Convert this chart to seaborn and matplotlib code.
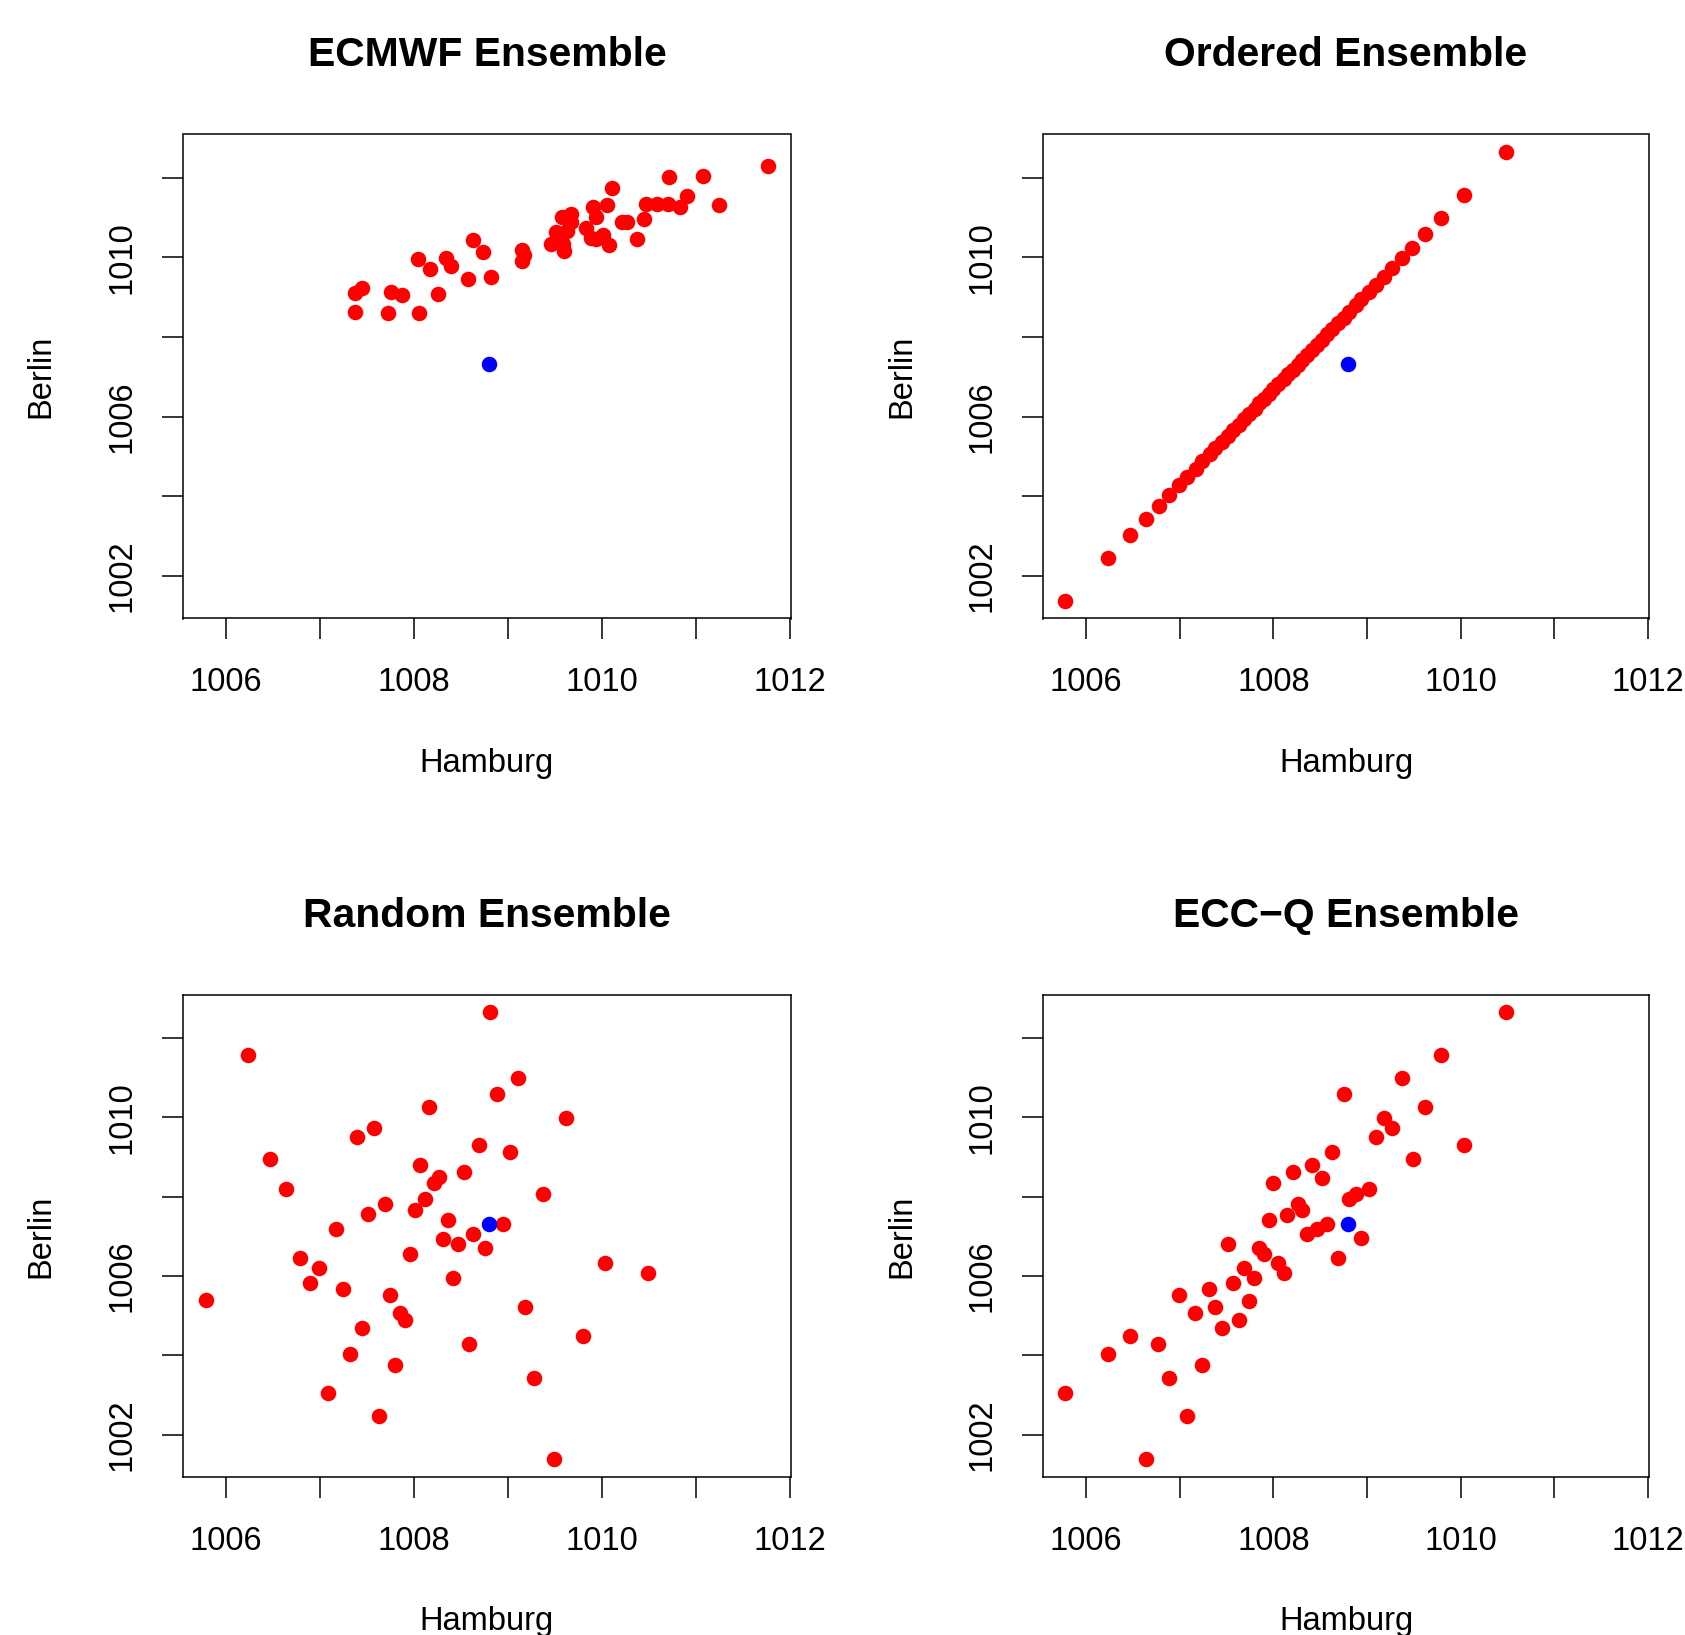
import matplotlib
matplotlib.use("Agg")
import matplotlib.pyplot as plt
import seaborn as sns
import pandas as pd

# ---------------- data ----------------
TITLES = ["ECMWF Ensemble", "Ordered Ensemble", "Random Ensemble", "ECC\u2212Q Ensemble"]
X_LABEL = "Hamburg"
Y_LABEL = "Berlin"

OBS_H = [1008.80]
OBS_B = [1007.31]

ENS_H = [1011.77, 1010.71, 1011.07, 1010.11, 1010.90, 1011.24, 1010.47, 1010.58, 1010.70, 1010.83,
         1009.90, 1010.05, 1009.94, 1010.45, 1010.21, 1010.26, 1009.57, 1009.67, 1009.67, 1009.51,
         1009.63, 1009.83, 1009.88, 1010.01, 1009.94, 1010.07, 1010.37, 1009.46, 1009.58, 1009.59,
         1009.15, 1009.15, 1008.63, 1008.73, 1008.34, 1008.39, 1008.04, 1008.17, 1008.57, 1008.82,
         1007.45, 1007.37, 1007.75, 1007.87, 1008.25, 1007.37, 1007.72, 1008.05, 1009.64, 1009.17]
ENS_B = [1012.28, 1012.01, 1012.03, 1011.74, 1011.53, 1011.32, 1011.34, 1011.34, 1011.34, 1011.26,
         1011.27, 1011.32, 1011.02, 1010.96, 1010.88, 1010.88, 1011.00, 1011.09, 1010.88, 1010.63,
         1010.65, 1010.74, 1010.48, 1010.55, 1010.46, 1010.30, 1010.46, 1010.34, 1010.34, 1010.15,
         1010.19, 1009.90, 1010.42, 1010.13, 1009.99, 1009.79, 1009.96, 1009.71, 1009.46, 1009.50,
         1009.23, 1009.10, 1009.13, 1009.06, 1009.07, 1008.62, 1008.61, 1008.61, 1010.95, 1010.05]

ORD_H = [1005.78, 1006.23, 1006.47, 1006.64, 1006.78, 1006.89, 1006.99, 1007.08, 1007.17, 1007.24,
         1007.32, 1007.38, 1007.45, 1007.51, 1007.57, 1007.63, 1007.69, 1007.74, 1007.80, 1007.85,
         1007.90, 1007.95, 1008.00, 1008.05, 1008.11, 1008.16, 1008.21, 1008.26, 1008.31, 1008.36,
         1008.41, 1008.47, 1008.52, 1008.57, 1008.63, 1008.69, 1008.75, 1008.81, 1008.88, 1008.94,
         1009.02, 1009.09, 1009.18, 1009.27, 1009.37, 1009.48, 1009.62, 1009.79, 1010.03, 1010.48]
ORD_B = [1001.38, 1002.45, 1003.02, 1003.43, 1003.76, 1004.03, 1004.28, 1004.49, 1004.69, 1004.88,
         1005.05, 1005.21, 1005.37, 1005.52, 1005.66, 1005.80, 1005.94, 1006.07, 1006.20, 1006.33,
         1006.45, 1006.57, 1006.70, 1006.82, 1006.94, 1007.06, 1007.18, 1007.30, 1007.43, 1007.55,
         1007.68, 1007.80, 1007.93, 1008.06, 1008.20, 1008.34, 1008.48, 1008.63, 1008.79, 1008.95,
         1009.12, 1009.31, 1009.51, 1009.72, 1009.97, 1010.24, 1010.57, 1010.98, 1011.55, 1012.63]

RND_H = [1008.81, 1006.23, 1009.10, 1008.88, 1008.16, 1009.62, 1007.57, 1007.39, 1008.69, 1009.02,
         1006.47, 1008.06, 1008.53, 1008.26, 1008.21, 1006.64, 1009.37, 1008.11, 1007.69, 1008.01,
         1007.51, 1008.36, 1008.95, 1007.17, 1008.63, 1008.31, 1008.47, 1008.75, 1007.96, 1006.78,
         1010.03, 1006.99, 1010.49, 1008.41, 1006.89, 1007.24, 1007.74, 1005.78, 1009.18, 1007.85,
         1007.90, 1007.45, 1009.80, 1008.58, 1007.32, 1007.80, 1009.27, 1007.08, 1007.63, 1009.49]
RND_B = [1012.64, 1011.56, 1010.98, 1010.58, 1010.25, 1009.97, 1009.72, 1009.50, 1009.29, 1009.13,
         1008.95, 1008.79, 1008.62, 1008.48, 1008.35, 1008.19, 1008.07, 1007.95, 1007.80, 1007.66,
         1007.55, 1007.41, 1007.30, 1007.19, 1007.06, 1006.94, 1006.81, 1006.69, 1006.56, 1006.44,
         1006.32, 1006.19, 1006.07, 1005.94, 1005.82, 1005.67, 1005.51, 1005.38, 1005.22, 1005.07,
         1004.88, 1004.69, 1004.49, 1004.29, 1004.04, 1003.76, 1003.43, 1003.04, 1002.46, 1001.38]

ECCQ_H = [1010.48, 1009.79, 1009.37, 1008.75, 1009.62, 1009.18, 1009.27, 1009.09, 1010.04, 1008.63,
          1009.49, 1008.41, 1008.21, 1008.52, 1008.00, 1009.02, 1008.88, 1008.81, 1008.26, 1008.31,
          1008.15, 1007.95, 1008.57, 1008.47, 1008.36, 1008.94, 1007.51, 1007.85, 1007.90, 1008.69,
          1008.05, 1007.69, 1008.11, 1007.79, 1007.57, 1007.31, 1006.99, 1007.74, 1007.38, 1007.16,
          1007.63, 1007.45, 1006.47, 1006.77, 1006.23, 1007.24, 1006.89, 1005.78, 1007.08, 1006.64]
ECCQ_B = [1012.64, 1011.56, 1010.98, 1010.58, 1010.25, 1009.98, 1009.72, 1009.50, 1009.29, 1009.13,
          1008.95, 1008.79, 1008.63, 1008.47, 1008.35, 1008.19, 1008.07, 1007.95, 1007.81, 1007.66,
          1007.54, 1007.41, 1007.30, 1007.19, 1007.06, 1006.95, 1006.81, 1006.69, 1006.55, 1006.44,
          1006.32, 1006.20, 1006.07, 1005.94, 1005.82, 1005.67, 1005.51, 1005.37, 1005.22, 1005.07,
          1004.88, 1004.69, 1004.49, 1004.29, 1004.04, 1003.76, 1003.43, 1003.04, 1002.46, 1001.38]

X_TICKS = [1006, 1007, 1008, 1009, 1010, 1011, 1012]
X_TICK_LABELS = ["1006", "", "1008", "", "1010", "", "1012"]
Y_TICKS = [1002, 1004, 1006, 1008, 1010, 1012]
Y_TICK_LABELS = ["1002", "", "1006", "", "1010", ""]

# ---------------- style ----------------
sns.set_theme(style="white")
plt.rcParams['font.family'] = ['Liberation Sans', 'DejaVu Sans']
plt.rcParams['text.color'] = 'black'
plt.rcParams['axes.labelcolor'] = 'black'
plt.rcParams['axes.titlecolor'] = 'black'

W, H = 1685, 1635
fig = plt.figure(figsize=(W / 100, H / 100), dpi=100)

# axes boxes in pixel coords: (left, top, right, bottom)
boxes = [(183, 134.5, 791, 618.5), (1043, 134.5, 1649, 618.5),
         (183, 995, 791, 1477), (1043, 995, 1649, 1477)]

panels = [(ENS_H, ENS_B), (ORD_H, ORD_B), (RND_H, RND_B), (ECCQ_H, ECCQ_B)]

XLIM = (1005.54, 1012.01)
YLIM = (1000.93, 1013.08)

for (l, t, r, b), title, (hx, by) in zip(boxes, TITLES, panels):
    ax = fig.add_axes([l / W, 1 - b / H, (r - l) / W, (b - t) / H])
    df = pd.DataFrame({X_LABEL: hx, Y_LABEL: by})
    sns.scatterplot(data=df, x=X_LABEL, y=Y_LABEL, ax=ax, color="#FF0000",
                    s=125, linewidth=0, zorder=3)
    obs = pd.DataFrame({X_LABEL: OBS_H, Y_LABEL: OBS_B})
    sns.scatterplot(data=obs, x=X_LABEL, y=Y_LABEL, ax=ax, color="#0000FF",
                    s=125, linewidth=0, zorder=4)
    ax.set_xlim(*XLIM)
    ax.set_ylim(*YLIM)
    ax.set_xticks(X_TICKS)
    ax.set_xticklabels(X_TICK_LABELS)
    ax.set_yticks(Y_TICKS)
    ax.set_yticklabels(Y_TICK_LABELS, rotation=90, va="center")
    ax.tick_params(axis="both", which="major", bottom=True, left=True,
                   direction="out", length=15, width=1.1, color="black",
                   labelsize=23.5, labelcolor="black")
    ax.tick_params(axis="x", pad=20)
    ax.tick_params(axis="y", pad=17.5)
    for sp in ax.spines.values():
        sp.set_visible(True)
        sp.set_color("black")
        sp.set_linewidth(1.1)
    ax.set_title(title, fontsize=29.4, fontweight="bold", pad=49, color="black")
    ax.set_xlabel(X_LABEL, fontsize=23.5, color="black")
    ax.set_ylabel(Y_LABEL, fontsize=23.5, color="black")
    ax.xaxis.set_label_coords(0.5, -0.2676)
    ax.yaxis.set_label_coords(-0.2078, 0.5)
    ax.grid(False)

fig.savefig("out.png", dpi=100, facecolor="white")
